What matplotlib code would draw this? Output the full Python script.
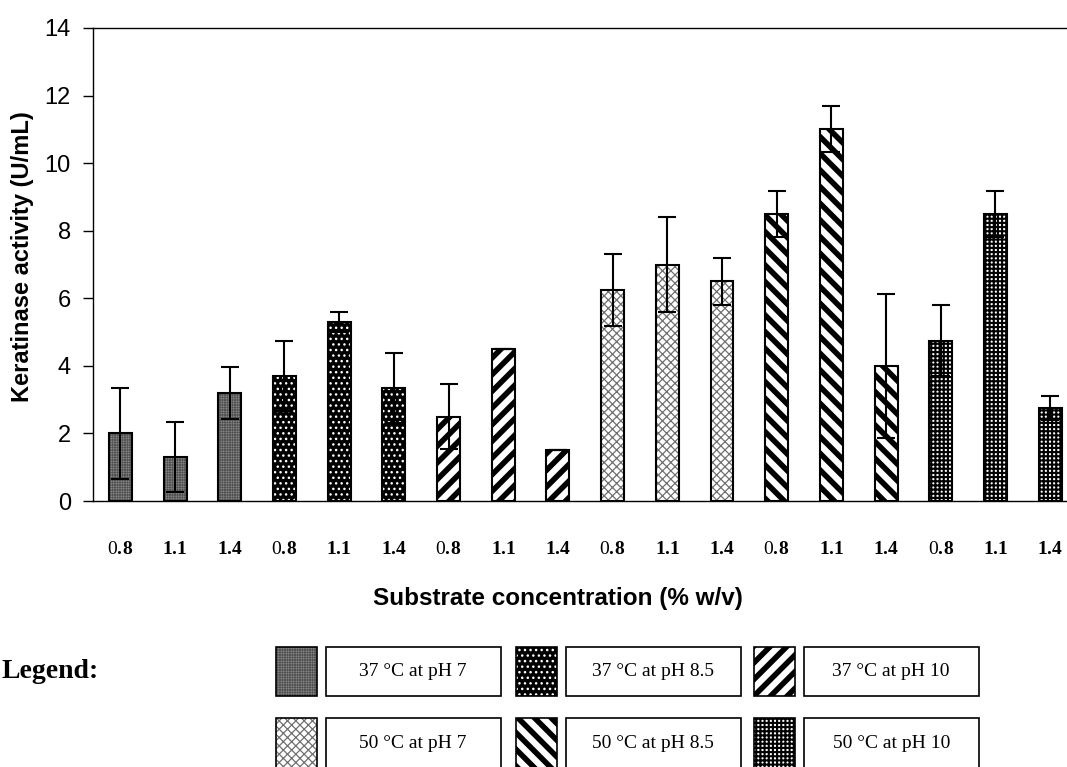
import numpy as np
import matplotlib
matplotlib.use("Agg")
import matplotlib.pyplot as plt
from matplotlib.patches import Rectangle

# ---------------- data ----------------
concentrations = ["0.8", "1.1", "1.4"]
series_names = ["37 °C at pH 7", "37 °C at pH 8.5", "37 °C at pH 10",
                "50 °C at pH 7", "50 °C at pH 8.5", "50 °C at pH 10"]
activity = [2.0, 1.3, 3.2,
            3.7, 5.3, 3.35,
            2.5, 4.5, 1.5,
            6.25, 7.0, 6.5,
            8.5, 11.0, 4.0,
            4.75, 8.5, 2.75]
errors = [1.35, 1.03, 0.77,
          1.03, 0.30, 1.03,
          0.97, 0.0, 0.0,
          1.07, 1.40, 0.70,
          0.68, 0.68, 2.13,
          1.04, 0.68, 0.35]
x_labels = concentrations * len(series_names)
y_ticks = [0, 2, 4, 6, 8, 10, 12, 14]

# ---------------- styles ----------------
# (facecolor, hatch, hatchcolor, hatch linewidth)
styles = [
    ("#9a9a9a", "++++++++++", "#505050", 0.45),
    ("#000000", "...", "#ffffff", 1.0),
    ("#ffffff", "//", "#000000", 4.0),
    ("#ffffff", "xxxx", "#707070", 0.9),
    ("#ffffff", "\\\\", "#000000", 4.0),
    ("#ffffff", "++++", "#000000", 1.5),
]

plt.rcParams['mathtext.fontset'] = 'custom'
plt.rcParams['mathtext.rm'] = 'Liberation Serif'
plt.rcParams['mathtext.bf'] = 'Liberation Serif:bold'

W, H = 1067, 767
fig = plt.figure(figsize=(W / 100, H / 100), dpi=100)
fig.patch.set_facecolor("white")


def hatched_rect(axes, xy, w, h, style, edge_lw=1.5, zorder=2):
    face, hatch, hcol, hlw = style
    with plt.rc_context({'hatch.linewidth': hlw}):
        p = Rectangle(xy, w, h, facecolor=face, edgecolor=hcol, hatch=hatch,
                      linewidth=0, zorder=zorder)
    if hasattr(p, "set_hatch_linewidth"):
        p.set_hatch_linewidth(hlw)
    axes.add_patch(p)
    o = Rectangle(xy, w, h, facecolor="none", edgecolor="black",
                  linewidth=edge_lw, zorder=zorder + 0.1)
    axes.add_patch(o)


# ---------------- main axes ----------------
ax = fig.add_axes([93 / W, 1 - 501 / H, (1077.5 - 93) / W, (501 - 28) / H])
ax.set_zorder(2)
x = np.arange(len(activity))
bar_w = 0.42
for i, (xi, v) in enumerate(zip(x, activity)):
    face, hatch, hcol, hlw = styles[i // 3]
    with plt.rc_context({'hatch.linewidth': hlw}):
        b = ax.bar(xi, v, width=bar_w, color=face, edgecolor=hcol, hatch=hatch,
                   linewidth=0, zorder=2)
    for p in b:
        if hasattr(p, "set_hatch_linewidth"):
            p.set_hatch_linewidth(hlw)
    ax.bar(xi, v, width=bar_w, color="none", edgecolor="black", linewidth=1.5, zorder=3)

ax.errorbar(x, activity, yerr=errors, fmt="none", ecolor="black",
            elinewidth=1.5, capsize=6.4, capthick=1.5, zorder=5)

ax.set_xlim(-0.5, len(activity) - 0.5)
ax.set_ylim(0, 14)
ax.set_yticks(y_ticks)
ax.set_yticklabels([str(t) for t in y_ticks], fontfamily="Liberation Sans", fontsize=17)
ax.tick_params(axis="y", direction="out", length=7, width=1, pad=9)


def fmt_label(s):
    if s.startswith("0"):
        return r"$\mathrm{0}\mathbf{.\!" + s[2:] + "}$"
    return r"$\mathbf{" + s + "}$"


ax.set_xticks(x)
ax.set_xticklabels([fmt_label(s) for s in x_labels], fontsize=14)
ax.tick_params(axis="x", length=0, pad=27)

for side in ["left", "bottom", "top"]:
    ax.spines[side].set_linewidth(1.0)
ax.spines["right"].set_visible(False)

fig.text(23 / W, 1 - 257 / H, "Keratinase activity (U/mL)", rotation=90,
         ha="center", va="center", fontfamily="Liberation Sans",
         fontweight="bold", fontsize=17)
fig.text(557.5 / W, 1 - 598 / H, "Substrate concentration (% w/v)",
         ha="center", va="center", fontfamily="Liberation Sans",
         fontweight="bold", fontsize=17.5)

# ---------------- legend (pixel-layout axes) ----------------
lax = fig.add_axes([0, 0, 1, 1])
lax.set_zorder(1)
lax.set_xlim(0, W)
lax.set_ylim(H, 0)
lax.axis("off")
lax.patch.set_visible(False)

lax.text(2, 678, "Legend:", ha="left", va="baseline",
         fontfamily="Liberation Serif", fontweight="bold", fontsize=20)

swatch_x = [275.7, 515.7, 754.3]
box_x = [325.7, 565.7, 803.7]
row_y = [646.7, 718.3]
sw_w, box_w, row_h = 41, 175, 49.5
for k, name in enumerate(series_names):
    r, c = divmod(k, 3)
    y0 = row_y[r]
    hatched_rect(lax, (swatch_x[c], y0), sw_w, row_h, styles[k], edge_lw=1.2)
    lax.add_patch(Rectangle((box_x[c], y0), box_w, row_h, facecolor="white",
                            edgecolor="black", linewidth=1.2))
    lax.text(box_x[c] + box_w / 2, y0 + row_h / 2, name, ha="center", va="center",
             fontfamily="Liberation Serif", fontsize=14)

fig.savefig("out.png", dpi=100, facecolor="white")
